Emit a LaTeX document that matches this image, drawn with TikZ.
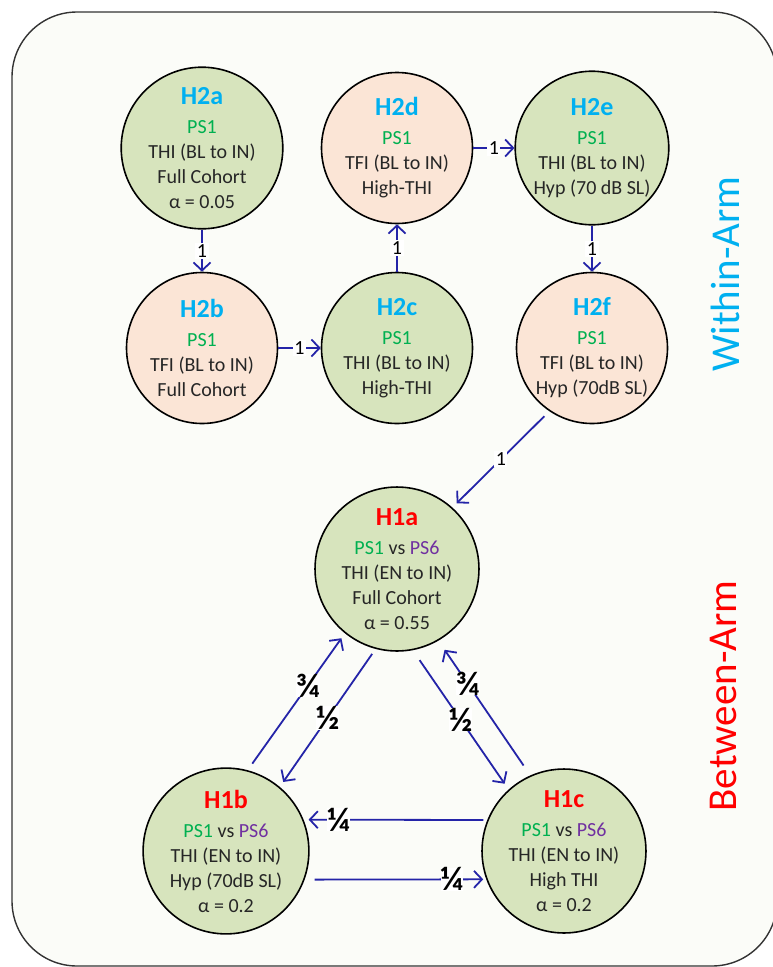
\documentclass[tikz,border=0pt]{standalone}
\usepackage{fontspec}
\setmainfont{Carlito}
\usetikzlibrary{arrows.meta}
\definecolor{arrowblue}{RGB}{36,36,168}
\definecolor{olivefill}{RGB}{215,228,189}
\definecolor{peachfill}{RGB}{251,229,214}
\definecolor{hypcyan}{RGB}{0,176,240}
\definecolor{psgreen}{RGB}{0,176,80}
\definecolor{pspurple}{RGB}{112,48,160}
\definecolor{paper}{RGB}{251,252,248}
\newcommand{\hname}[2]{{\fontsize{26}{30}\selectfont\bfseries\color{#1}#2}}
\newcommand{\psone}{{\color{psgreen}PS1}}
\newcommand{\pssix}{{\color{pspurple}PS6}}
\tikzset{
	hyp/.style={circle, draw=black, line width=1.6pt, minimum size=151pt, inner sep=0pt, align=center, text=black!85, font=\fontsize{20}{25}\selectfont},
	link/.style={draw=arrowblue, line width=1.8pt, -{Straight Barb[length=8pt,width=17pt]}},
	wt/.style={fill=white, inner sep=1.5pt, text=black, font=\fontsize{20}{22}\selectfont},
	frac/.style={wt, inner sep=0pt, font=\fontsize{34}{34}\selectfont\bfseries},
}

\begin{document}
\begin{tikzpicture}[x=1pt, y=-1pt]
		%%%%% START %%%%%
		
		\useasboundingbox (0, 0) rectangle (772, 967);
		\draw[line width=1.4pt, color=black!80, fill=paper, rounded corners=65pt] (12, 12) rectangle (777, 966);
		
		% within-arm
		\node[hyp, fill=olivefill] (h2a) at (202, 148) {\hname{hypcyan}{H2a}\\[4pt] \psone\\ THI (BL to IN)\\ Full Cohort\\ α = 0.05};
		\node[hyp, fill=peachfill] (h2b) at (202, 348) {\hname{hypcyan}{H2b}\\[4pt] \psone\\ TFI (BL to IN)\\ Full Cohort};
		\node[hyp, fill=olivefill] (h2c) at (397, 348) {\hname{hypcyan}{H2c}\\[4pt] \psone\\ THI (BL to IN)\\ High-THI};
		\node[hyp, fill=peachfill] (h2d) at (397, 148) {\hname{hypcyan}{H2d}\\[4pt] \psone\\ TFI (BL to IN)\\ High-THI};
		\node[hyp, fill=olivefill] (h2e) at (592, 148) {\hname{hypcyan}{H2e}\\[4pt] \psone\\ THI (BL to IN)\\ Hyp (70 dB SL)};
		\node[hyp, fill=peachfill] (h2f) at (592, 348) {\hname{hypcyan}{H2f}\\[4pt] \psone\\ TFI (BL to IN)\\ Hyp (70dB SL)};
		
		% between-arm
		\node[hyp, fill=olivefill] (h1a) at (397, 569) {\hname{red}{H1a}\\[4pt] \psone{} vs \pssix\\ THI (EN to IN)\\ Full Cohort\\ α = 0.55};
		\node[hyp, fill=olivefill] (h1b) at (226, 851) {\hname{red}{H1b}\\[4pt] \psone{} vs \pssix\\ THI (EN to IN)\\ Hyp (70dB SL)\\ α = 0.2};
		\node[hyp, fill=olivefill] (h1c) at (564, 851) {\hname{red}{H1c}\\[4pt] \psone{} vs \pssix\\ THI (EN to IN)\\ High THI\\ α = 0.2};
		
		\node[rotate=90, text=hypcyan, font=\fontsize{41}{41}\selectfont] (within) at (725, 274) {Within-Arm};
		\node[rotate=90, text=red, font=\fontsize{41}{41}\selectfont] (between) at (723, 696) {Between-Arm};
		
		% weights
		\draw[link] (h2a) -- node[wt] {1} (h2b);
		\draw[link] (h2b) -- node[wt] {1} (h2c);
		\draw[link] (h2c) -- node[wt] {1} (h2d);
		\draw[link] (h2d) -- node[wt] {1} (h2e);
		\draw[link] (h2e) -- node[wt] {1} (h2f);
		\draw[link, shorten <=7pt, shorten >=6pt] (h2f.236) -- node[wt] {1} (h1a.48);
		
		\draw[link, shorten <=8pt, shorten >=6pt] (h1b.75) -- node[frac, pos=0.62] {¾} (h1a.231);
		\draw[link, shorten <=6pt, shorten >=6pt] (h1a.255) -- node[frac] {½} (h1b.50);
		\draw[link, shorten <=12pt, shorten >=7pt] (h1a.281) -- node[frac] {½} (h1c.132);
		\draw[link, shorten <=12pt, shorten >=11pt] (h1c.114) -- node[frac, pos=0.68] {¾} (h1a.300);
		\draw[link, shorten <=4pt, shorten >=5pt] (h1c.158) -- node[frac, pos=0.81] {¼} (h1b.22);
		\draw[link, shorten <=10pt, shorten >=3pt] (h1b.340) -- node[frac, pos=0.81] {¼} (h1c.200);
		
		%%%%% END %%%%%
	\end{tikzpicture}
\end{document}
